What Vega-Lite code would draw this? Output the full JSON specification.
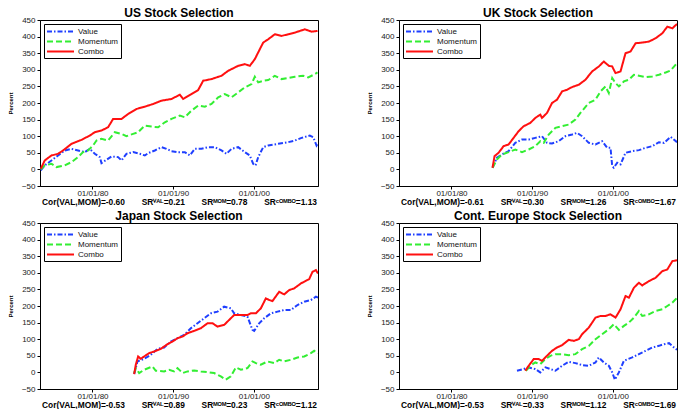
{
"$schema":"https://vega.github.io/schema/vega-lite/v6.json",
"background":"white",
"padding":{"left":6,"top":6,"right":0,"bottom":0},
"datasets":{"d":[
{"p":"US","s":"Value","x":1973.6,"v":-3},{"p":"US","s":"Value","x":1974.09,"v":12},{"p":"US","s":"Value","x":1974.92,"v":27},{"p":"US","s":"Value","x":1975.74,"v":42},{"p":"US","s":"Value","x":1976.57,"v":57},{"p":"US","s":"Value","x":1977.4,"v":62},{"p":"US","s":"Value","x":1978.22,"v":57},{"p":"US","s":"Value","x":1979.05,"v":52},{"p":"US","s":"Value","x":1979.67,"v":62},{"p":"US","s":"Value","x":1980.29,"v":47},{"p":"US","s":"Value","x":1980.91,"v":37},{"p":"US","s":"Value","x":1981.12,"v":19},{"p":"US","s":"Value","x":1981.74,"v":29},{"p":"US","s":"Value","x":1982.36,"v":39},{"p":"US","s":"Value","x":1983.18,"v":37},{"p":"US","s":"Value","x":1983.6,"v":27},{"p":"US","s":"Value","x":1984.21,"v":47},{"p":"US","s":"Value","x":1985.04,"v":52},{"p":"US","s":"Value","x":1985.87,"v":47},{"p":"US","s":"Value","x":1986.49,"v":42},{"p":"US","s":"Value","x":1986.9,"v":49},{"p":"US","s":"Value","x":1987.73,"v":57},{"p":"US","s":"Value","x":1988.55,"v":67},{"p":"US","s":"Value","x":1989.17,"v":62},{"p":"US","s":"Value","x":1989.79,"v":55},{"p":"US","s":"Value","x":1990.62,"v":52},{"p":"US","s":"Value","x":1991.45,"v":52},{"p":"US","s":"Value","x":1992.07,"v":42},{"p":"US","s":"Value","x":1992.69,"v":62},{"p":"US","s":"Value","x":1993.51,"v":62},{"p":"US","s":"Value","x":1994.34,"v":67},{"p":"US","s":"Value","x":1995.17,"v":67},{"p":"US","s":"Value","x":1995.99,"v":57},{"p":"US","s":"Value","x":1996.61,"v":47},{"p":"US","s":"Value","x":1997.23,"v":62},{"p":"US","s":"Value","x":1998.06,"v":67},{"p":"US","s":"Value","x":1998.88,"v":52},{"p":"US","s":"Value","x":1999.5,"v":42},{"p":"US","s":"Value","x":1999.92,"v":17},{"p":"US","s":"Value","x":2000.21,"v":12},{"p":"US","s":"Value","x":2000.54,"v":37},{"p":"US","s":"Value","x":2001.16,"v":67},{"p":"US","s":"Value","x":2001.78,"v":72},{"p":"US","s":"Value","x":2003.02,"v":77},{"p":"US","s":"Value","x":2004.26,"v":82},{"p":"US","s":"Value","x":2005.08,"v":87},{"p":"US","s":"Value","x":2005.91,"v":95},{"p":"US","s":"Value","x":2006.94,"v":102},{"p":"US","s":"Value","x":2007.36,"v":97},{"p":"US","s":"Value","x":2007.77,"v":72},{"p":"US","s":"Value","x":2007.89,"v":77},
{"p":"US","s":"Momentum","x":1973.6,"v":0},{"p":"US","s":"Momentum","x":1974.09,"v":12},{"p":"US","s":"Momentum","x":1974.92,"v":17},{"p":"US","s":"Momentum","x":1975.54,"v":7},{"p":"US","s":"Momentum","x":1976.57,"v":12},{"p":"US","s":"Momentum","x":1977.4,"v":22},{"p":"US","s":"Momentum","x":1978.22,"v":37},{"p":"US","s":"Momentum","x":1978.84,"v":52},{"p":"US","s":"Momentum","x":1979.46,"v":57},{"p":"US","s":"Momentum","x":1980.08,"v":72},{"p":"US","s":"Momentum","x":1980.5,"v":87},{"p":"US","s":"Momentum","x":1981.12,"v":92},{"p":"US","s":"Momentum","x":1981.94,"v":87},{"p":"US","s":"Momentum","x":1982.77,"v":112},{"p":"US","s":"Momentum","x":1983.6,"v":107},{"p":"US","s":"Momentum","x":1984.21,"v":100},{"p":"US","s":"Momentum","x":1985.04,"v":107},{"p":"US","s":"Momentum","x":1985.66,"v":112},{"p":"US","s":"Momentum","x":1986.49,"v":132},{"p":"US","s":"Momentum","x":1987.31,"v":129},{"p":"US","s":"Momentum","x":1988.14,"v":127},{"p":"US","s":"Momentum","x":1988.97,"v":142},{"p":"US","s":"Momentum","x":1989.79,"v":152},{"p":"US","s":"Momentum","x":1990.83,"v":162},{"p":"US","s":"Momentum","x":1991.45,"v":157},{"p":"US","s":"Momentum","x":1992.27,"v":177},{"p":"US","s":"Momentum","x":1993.1,"v":192},{"p":"US","s":"Momentum","x":1993.93,"v":189},{"p":"US","s":"Momentum","x":1994.75,"v":197},{"p":"US","s":"Momentum","x":1995.58,"v":217},{"p":"US","s":"Momentum","x":1996.4,"v":227},{"p":"US","s":"Momentum","x":1997.23,"v":217},{"p":"US","s":"Momentum","x":1998.06,"v":232},{"p":"US","s":"Momentum","x":1998.88,"v":247},{"p":"US","s":"Momentum","x":1999.71,"v":257},{"p":"US","s":"Momentum","x":2000.12,"v":279},{"p":"US","s":"Momentum","x":2000.54,"v":262},{"p":"US","s":"Momentum","x":2001.16,"v":267},{"p":"US","s":"Momentum","x":2001.78,"v":269},{"p":"US","s":"Momentum","x":2002.6,"v":282},{"p":"US","s":"Momentum","x":2003.43,"v":272},{"p":"US","s":"Momentum","x":2004.26,"v":275},{"p":"US","s":"Momentum","x":2005.08,"v":279},{"p":"US","s":"Momentum","x":2006.12,"v":282},{"p":"US","s":"Momentum","x":2006.74,"v":277},{"p":"US","s":"Momentum","x":2007.56,"v":287},{"p":"US","s":"Momentum","x":2007.89,"v":292},
{"p":"US","s":"Combo","x":1973.6,"v":2},{"p":"US","s":"Combo","x":1974.09,"v":27},{"p":"US","s":"Combo","x":1974.92,"v":42},{"p":"US","s":"Combo","x":1975.74,"v":47},{"p":"US","s":"Combo","x":1976.36,"v":57},{"p":"US","s":"Combo","x":1977.4,"v":77},{"p":"US","s":"Combo","x":1978.64,"v":89},{"p":"US","s":"Combo","x":1979.67,"v":102},{"p":"US","s":"Combo","x":1980.29,"v":112},{"p":"US","s":"Combo","x":1981.12,"v":117},{"p":"US","s":"Combo","x":1981.94,"v":127},{"p":"US","s":"Combo","x":1982.56,"v":152},{"p":"US","s":"Combo","x":1983.6,"v":152},{"p":"US","s":"Combo","x":1984.42,"v":167},{"p":"US","s":"Combo","x":1985.45,"v":182},{"p":"US","s":"Combo","x":1986.49,"v":189},{"p":"US","s":"Combo","x":1987.52,"v":197},{"p":"US","s":"Combo","x":1988.55,"v":207},{"p":"US","s":"Combo","x":1989.79,"v":212},{"p":"US","s":"Combo","x":1990.83,"v":225},{"p":"US","s":"Combo","x":1991.24,"v":212},{"p":"US","s":"Combo","x":1992.27,"v":227},{"p":"US","s":"Combo","x":1993.1,"v":239},{"p":"US","s":"Combo","x":1993.72,"v":267},{"p":"US","s":"Combo","x":1994.75,"v":272},{"p":"US","s":"Combo","x":1995.99,"v":282},{"p":"US","s":"Combo","x":1996.82,"v":297},{"p":"US","s":"Combo","x":1998.06,"v":312},{"p":"US","s":"Combo","x":1998.88,"v":317},{"p":"US","s":"Combo","x":1999.5,"v":312},{"p":"US","s":"Combo","x":2000.12,"v":332},{"p":"US","s":"Combo","x":2000.74,"v":362},{"p":"US","s":"Combo","x":2001.16,"v":382},{"p":"US","s":"Combo","x":2001.78,"v":392},{"p":"US","s":"Combo","x":2002.6,"v":407},{"p":"US","s":"Combo","x":2003.43,"v":402},{"p":"US","s":"Combo","x":2004.26,"v":407},{"p":"US","s":"Combo","x":2005.08,"v":412},{"p":"US","s":"Combo","x":2006.32,"v":422},{"p":"US","s":"Combo","x":2007.15,"v":415},{"p":"US","s":"Combo","x":2007.89,"v":417},
{"p":"UK","s":"Value","x":1985.09,"v":5},{"p":"UK","s":"Value","x":1985.63,"v":35},{"p":"UK","s":"Value","x":1986.25,"v":45},{"p":"UK","s":"Value","x":1987.08,"v":55},{"p":"UK","s":"Value","x":1987.91,"v":80},{"p":"UK","s":"Value","x":1988.74,"v":90},{"p":"UK","s":"Value","x":1989.57,"v":90},{"p":"UK","s":"Value","x":1990.39,"v":95},{"p":"UK","s":"Value","x":1991.22,"v":100},{"p":"UK","s":"Value","x":1991.84,"v":80},{"p":"UK","s":"Value","x":1992.46,"v":78},{"p":"UK","s":"Value","x":1993.29,"v":85},{"p":"UK","s":"Value","x":1994.12,"v":100},{"p":"UK","s":"Value","x":1994.95,"v":105},{"p":"UK","s":"Value","x":1995.57,"v":110},{"p":"UK","s":"Value","x":1996.19,"v":100},{"p":"UK","s":"Value","x":1997.02,"v":80},{"p":"UK","s":"Value","x":1997.85,"v":75},{"p":"UK","s":"Value","x":1998.67,"v":85},{"p":"UK","s":"Value","x":1999.3,"v":65},{"p":"UK","s":"Value","x":1999.71,"v":65},{"p":"UK","s":"Value","x":1999.92,"v":10},{"p":"UK","s":"Value","x":2000.12,"v":5},{"p":"UK","s":"Value","x":2000.54,"v":20},{"p":"UK","s":"Value","x":2000.95,"v":15},{"p":"UK","s":"Value","x":2001.57,"v":50},{"p":"UK","s":"Value","x":2002.4,"v":55},{"p":"UK","s":"Value","x":2003.23,"v":58},{"p":"UK","s":"Value","x":2004.06,"v":65},{"p":"UK","s":"Value","x":2004.89,"v":70},{"p":"UK","s":"Value","x":2005.71,"v":82},{"p":"UK","s":"Value","x":2006.34,"v":80},{"p":"UK","s":"Value","x":2007.16,"v":98},{"p":"UK","s":"Value","x":2007.95,"v":82},
{"p":"UK","s":"Momentum","x":1985.09,"v":5},{"p":"UK","s":"Momentum","x":1985.63,"v":30},{"p":"UK","s":"Momentum","x":1986.25,"v":45},{"p":"UK","s":"Momentum","x":1987.08,"v":52},{"p":"UK","s":"Momentum","x":1987.91,"v":60},{"p":"UK","s":"Momentum","x":1988.74,"v":52},{"p":"UK","s":"Momentum","x":1989.57,"v":60},{"p":"UK","s":"Momentum","x":1990.39,"v":70},{"p":"UK","s":"Momentum","x":1991.01,"v":85},{"p":"UK","s":"Momentum","x":1991.43,"v":80},{"p":"UK","s":"Momentum","x":1992.05,"v":105},{"p":"UK","s":"Momentum","x":1992.88,"v":125},{"p":"UK","s":"Momentum","x":1993.71,"v":130},{"p":"UK","s":"Momentum","x":1994.53,"v":135},{"p":"UK","s":"Momentum","x":1995.36,"v":150},{"p":"UK","s":"Momentum","x":1995.98,"v":170},{"p":"UK","s":"Momentum","x":1997.02,"v":200},{"p":"UK","s":"Momentum","x":1997.85,"v":210},{"p":"UK","s":"Momentum","x":1998.47,"v":235},{"p":"UK","s":"Momentum","x":1999.09,"v":250},{"p":"UK","s":"Momentum","x":1999.5,"v":230},{"p":"UK","s":"Momentum","x":1999.92,"v":275},{"p":"UK","s":"Momentum","x":2000.33,"v":260},{"p":"UK","s":"Momentum","x":2000.75,"v":250},{"p":"UK","s":"Momentum","x":2001.37,"v":265},{"p":"UK","s":"Momentum","x":2001.99,"v":270},{"p":"UK","s":"Momentum","x":2002.61,"v":285},{"p":"UK","s":"Momentum","x":2003.23,"v":282},{"p":"UK","s":"Momentum","x":2004.06,"v":278},{"p":"UK","s":"Momentum","x":2004.89,"v":280},{"p":"UK","s":"Momentum","x":2005.71,"v":285},{"p":"UK","s":"Momentum","x":2006.54,"v":292},{"p":"UK","s":"Momentum","x":2007.16,"v":298},{"p":"UK","s":"Momentum","x":2007.95,"v":320},
{"p":"UK","s":"Combo","x":1985.09,"v":5},{"p":"UK","s":"Combo","x":1985.34,"v":40},{"p":"UK","s":"Combo","x":1985.84,"v":50},{"p":"UK","s":"Combo","x":1986.46,"v":70},{"p":"UK","s":"Combo","x":1987.08,"v":75},{"p":"UK","s":"Combo","x":1987.7,"v":95},{"p":"UK","s":"Combo","x":1988.32,"v":115},{"p":"UK","s":"Combo","x":1988.94,"v":130},{"p":"UK","s":"Combo","x":1989.77,"v":140},{"p":"UK","s":"Combo","x":1990.39,"v":155},{"p":"UK","s":"Combo","x":1991.01,"v":165},{"p":"UK","s":"Combo","x":1991.22,"v":155},{"p":"UK","s":"Combo","x":1991.84,"v":170},{"p":"UK","s":"Combo","x":1992.46,"v":200},{"p":"UK","s":"Combo","x":1993.08,"v":210},{"p":"UK","s":"Combo","x":1993.71,"v":235},{"p":"UK","s":"Combo","x":1994.33,"v":240},{"p":"UK","s":"Combo","x":1994.95,"v":248},{"p":"UK","s":"Combo","x":1995.78,"v":255},{"p":"UK","s":"Combo","x":1996.6,"v":270},{"p":"UK","s":"Combo","x":1997.43,"v":295},{"p":"UK","s":"Combo","x":1998.26,"v":310},{"p":"UK","s":"Combo","x":1998.88,"v":325},{"p":"UK","s":"Combo","x":1999.5,"v":312},{"p":"UK","s":"Combo","x":1999.92,"v":310},{"p":"UK","s":"Combo","x":2000.33,"v":290},{"p":"UK","s":"Combo","x":2000.95,"v":295},{"p":"UK","s":"Combo","x":2001.57,"v":350},{"p":"UK","s":"Combo","x":2002.19,"v":355},{"p":"UK","s":"Combo","x":2002.82,"v":380},{"p":"UK","s":"Combo","x":2003.64,"v":382},{"p":"UK","s":"Combo","x":2004.47,"v":385},{"p":"UK","s":"Combo","x":2005.3,"v":395},{"p":"UK","s":"Combo","x":2006.13,"v":410},{"p":"UK","s":"Combo","x":2006.75,"v":430},{"p":"UK","s":"Combo","x":2007.37,"v":425},{"p":"UK","s":"Combo","x":2007.95,"v":438},
{"p":"JP","s":"Value","x":1985.17,"v":-5},{"p":"JP","s":"Value","x":1985.58,"v":33},{"p":"JP","s":"Value","x":1986.4,"v":41},{"p":"JP","s":"Value","x":1987.23,"v":53},{"p":"JP","s":"Value","x":1988.06,"v":71},{"p":"JP","s":"Value","x":1988.88,"v":75},{"p":"JP","s":"Value","x":1989.71,"v":93},{"p":"JP","s":"Value","x":1990.54,"v":103},{"p":"JP","s":"Value","x":1991.36,"v":113},{"p":"JP","s":"Value","x":1992.19,"v":133},{"p":"JP","s":"Value","x":1993.02,"v":148},{"p":"JP","s":"Value","x":1993.84,"v":163},{"p":"JP","s":"Value","x":1994.67,"v":178},{"p":"JP","s":"Value","x":1995.5,"v":183},{"p":"JP","s":"Value","x":1996.32,"v":198},{"p":"JP","s":"Value","x":1997.15,"v":193},{"p":"JP","s":"Value","x":1997.56,"v":178},{"p":"JP","s":"Value","x":1998.39,"v":173},{"p":"JP","s":"Value","x":1999.21,"v":168},{"p":"JP","s":"Value","x":1999.83,"v":128},{"p":"JP","s":"Value","x":2000.04,"v":125},{"p":"JP","s":"Value","x":2000.66,"v":148},{"p":"JP","s":"Value","x":2001.28,"v":163},{"p":"JP","s":"Value","x":2002.11,"v":178},{"p":"JP","s":"Value","x":2002.93,"v":183},{"p":"JP","s":"Value","x":2003.76,"v":188},{"p":"JP","s":"Value","x":2004.59,"v":188},{"p":"JP","s":"Value","x":2005.41,"v":203},{"p":"JP","s":"Value","x":2006.24,"v":213},{"p":"JP","s":"Value","x":2007.07,"v":218},{"p":"JP","s":"Value","x":2007.69,"v":228},{"p":"JP","s":"Value","x":2007.95,"v":225},
{"p":"JP","s":"Momentum","x":1985.17,"v":-2},{"p":"JP","s":"Momentum","x":1985.37,"v":13},{"p":"JP","s":"Momentum","x":1985.79,"v":-2},{"p":"JP","s":"Momentum","x":1986.4,"v":8},{"p":"JP","s":"Momentum","x":1987.44,"v":18},{"p":"JP","s":"Momentum","x":1987.85,"v":5},{"p":"JP","s":"Momentum","x":1988.88,"v":3},{"p":"JP","s":"Momentum","x":1989.5,"v":8},{"p":"JP","s":"Momentum","x":1990.12,"v":3},{"p":"JP","s":"Momentum","x":1990.54,"v":13},{"p":"JP","s":"Momentum","x":1991.16,"v":-2},{"p":"JP","s":"Momentum","x":1991.78,"v":3},{"p":"JP","s":"Momentum","x":1992.6,"v":6},{"p":"JP","s":"Momentum","x":1993.43,"v":3},{"p":"JP","s":"Momentum","x":1994.26,"v":1},{"p":"JP","s":"Momentum","x":1995.08,"v":-2},{"p":"JP","s":"Momentum","x":1995.91,"v":-12},{"p":"JP","s":"Momentum","x":1996.53,"v":-22},{"p":"JP","s":"Momentum","x":1997.15,"v":-12},{"p":"JP","s":"Momentum","x":1997.77,"v":15},{"p":"JP","s":"Momentum","x":1998.39,"v":8},{"p":"JP","s":"Momentum","x":1999.21,"v":13},{"p":"JP","s":"Momentum","x":1999.83,"v":33},{"p":"JP","s":"Momentum","x":2000.25,"v":28},{"p":"JP","s":"Momentum","x":2000.87,"v":23},{"p":"JP","s":"Momentum","x":2001.69,"v":33},{"p":"JP","s":"Momentum","x":2002.52,"v":28},{"p":"JP","s":"Momentum","x":2003.14,"v":38},{"p":"JP","s":"Momentum","x":2003.76,"v":33},{"p":"JP","s":"Momentum","x":2004.59,"v":38},{"p":"JP","s":"Momentum","x":2005.41,"v":45},{"p":"JP","s":"Momentum","x":2006.24,"v":48},{"p":"JP","s":"Momentum","x":2007.07,"v":58},{"p":"JP","s":"Momentum","x":2007.48,"v":65},{"p":"JP","s":"Momentum","x":2007.95,"v":58},
{"p":"JP","s":"Combo","x":1985.17,"v":-5},{"p":"JP","s":"Combo","x":1985.37,"v":23},{"p":"JP","s":"Combo","x":1985.66,"v":48},{"p":"JP","s":"Combo","x":1985.99,"v":41},{"p":"JP","s":"Combo","x":1986.4,"v":48},{"p":"JP","s":"Combo","x":1987.02,"v":58},{"p":"JP","s":"Combo","x":1987.64,"v":63},{"p":"JP","s":"Combo","x":1988.47,"v":71},{"p":"JP","s":"Combo","x":1989.3,"v":85},{"p":"JP","s":"Combo","x":1989.92,"v":93},{"p":"JP","s":"Combo","x":1990.54,"v":103},{"p":"JP","s":"Combo","x":1991.16,"v":108},{"p":"JP","s":"Combo","x":1991.78,"v":118},{"p":"JP","s":"Combo","x":1992.6,"v":125},{"p":"JP","s":"Combo","x":1993.43,"v":133},{"p":"JP","s":"Combo","x":1994.26,"v":148},{"p":"JP","s":"Combo","x":1994.88,"v":148},{"p":"JP","s":"Combo","x":1995.5,"v":138},{"p":"JP","s":"Combo","x":1996.32,"v":143},{"p":"JP","s":"Combo","x":1996.94,"v":158},{"p":"JP","s":"Combo","x":1997.56,"v":173},{"p":"JP","s":"Combo","x":1998.39,"v":173},{"p":"JP","s":"Combo","x":1999.21,"v":173},{"p":"JP","s":"Combo","x":1999.63,"v":178},{"p":"JP","s":"Combo","x":2000.25,"v":178},{"p":"JP","s":"Combo","x":2000.87,"v":193},{"p":"JP","s":"Combo","x":2001.49,"v":223},{"p":"JP","s":"Combo","x":2001.9,"v":218},{"p":"JP","s":"Combo","x":2002.31,"v":215},{"p":"JP","s":"Combo","x":2003.14,"v":243},{"p":"JP","s":"Combo","x":2003.76,"v":235},{"p":"JP","s":"Combo","x":2004.38,"v":248},{"p":"JP","s":"Combo","x":2005.0,"v":253},{"p":"JP","s":"Combo","x":2005.83,"v":268},{"p":"JP","s":"Combo","x":2006.86,"v":281},{"p":"JP","s":"Combo","x":2007.27,"v":303},{"p":"JP","s":"Combo","x":2007.69,"v":308},{"p":"JP","s":"Combo","x":2007.95,"v":298},
{"p":"EU","s":"Value","x":1988.12,"v":5},{"p":"EU","s":"Value","x":1988.94,"v":10},{"p":"EU","s":"Value","x":1989.57,"v":15},{"p":"EU","s":"Value","x":1990.39,"v":10},{"p":"EU","s":"Value","x":1991.01,"v":0},{"p":"EU","s":"Value","x":1991.64,"v":15},{"p":"EU","s":"Value","x":1992.26,"v":10},{"p":"EU","s":"Value","x":1992.88,"v":5},{"p":"EU","s":"Value","x":1993.71,"v":20},{"p":"EU","s":"Value","x":1994.53,"v":32},{"p":"EU","s":"Value","x":1995.36,"v":28},{"p":"EU","s":"Value","x":1996.19,"v":22},{"p":"EU","s":"Value","x":1997.02,"v":20},{"p":"EU","s":"Value","x":1997.85,"v":30},{"p":"EU","s":"Value","x":1998.26,"v":45},{"p":"EU","s":"Value","x":1998.88,"v":30},{"p":"EU","s":"Value","x":1999.5,"v":20},{"p":"EU","s":"Value","x":1999.92,"v":0},{"p":"EU","s":"Value","x":2000.25,"v":-22},{"p":"EU","s":"Value","x":2000.75,"v":0},{"p":"EU","s":"Value","x":2001.37,"v":35},{"p":"EU","s":"Value","x":2002.4,"v":45},{"p":"EU","s":"Value","x":2003.23,"v":55},{"p":"EU","s":"Value","x":2004.06,"v":65},{"p":"EU","s":"Value","x":2004.89,"v":75},{"p":"EU","s":"Value","x":2005.71,"v":80},{"p":"EU","s":"Value","x":2006.34,"v":85},{"p":"EU","s":"Value","x":2006.96,"v":88},{"p":"EU","s":"Value","x":2007.58,"v":75},{"p":"EU","s":"Value","x":2007.95,"v":68},
{"p":"EU","s":"Momentum","x":1989.23,"v":5},{"p":"EU","s":"Momentum","x":1989.77,"v":20},{"p":"EU","s":"Momentum","x":1990.39,"v":30},{"p":"EU","s":"Momentum","x":1991.01,"v":25},{"p":"EU","s":"Momentum","x":1991.64,"v":40},{"p":"EU","s":"Momentum","x":1992.26,"v":50},{"p":"EU","s":"Momentum","x":1992.88,"v":55},{"p":"EU","s":"Momentum","x":1993.71,"v":55},{"p":"EU","s":"Momentum","x":1994.53,"v":52},{"p":"EU","s":"Momentum","x":1995.36,"v":55},{"p":"EU","s":"Momentum","x":1996.19,"v":70},{"p":"EU","s":"Momentum","x":1997.02,"v":80},{"p":"EU","s":"Momentum","x":1997.85,"v":100},{"p":"EU","s":"Momentum","x":1998.67,"v":115},{"p":"EU","s":"Momentum","x":1999.5,"v":130},{"p":"EU","s":"Momentum","x":2000.12,"v":145},{"p":"EU","s":"Momentum","x":2000.75,"v":128},{"p":"EU","s":"Momentum","x":2001.37,"v":140},{"p":"EU","s":"Momentum","x":2001.99,"v":150},{"p":"EU","s":"Momentum","x":2002.61,"v":165},{"p":"EU","s":"Momentum","x":2003.23,"v":185},{"p":"EU","s":"Momentum","x":2003.64,"v":170},{"p":"EU","s":"Momentum","x":2004.47,"v":175},{"p":"EU","s":"Momentum","x":2005.3,"v":185},{"p":"EU","s":"Momentum","x":2006.13,"v":190},{"p":"EU","s":"Momentum","x":2006.75,"v":200},{"p":"EU","s":"Momentum","x":2007.37,"v":210},{"p":"EU","s":"Momentum","x":2007.95,"v":225},
{"p":"EU","s":"Combo","x":1989.15,"v":5},{"p":"EU","s":"Combo","x":1989.57,"v":20},{"p":"EU","s":"Combo","x":1990.19,"v":40},{"p":"EU","s":"Combo","x":1990.81,"v":40},{"p":"EU","s":"Combo","x":1991.22,"v":35},{"p":"EU","s":"Combo","x":1991.84,"v":50},{"p":"EU","s":"Combo","x":1992.46,"v":65},{"p":"EU","s":"Combo","x":1993.08,"v":75},{"p":"EU","s":"Combo","x":1993.71,"v":82},{"p":"EU","s":"Combo","x":1994.53,"v":98},{"p":"EU","s":"Combo","x":1995.16,"v":95},{"p":"EU","s":"Combo","x":1995.78,"v":100},{"p":"EU","s":"Combo","x":1996.19,"v":115},{"p":"EU","s":"Combo","x":1997.02,"v":135},{"p":"EU","s":"Combo","x":1997.85,"v":165},{"p":"EU","s":"Combo","x":1998.47,"v":170},{"p":"EU","s":"Combo","x":1999.09,"v":170},{"p":"EU","s":"Combo","x":1999.71,"v":175},{"p":"EU","s":"Combo","x":2000.33,"v":165},{"p":"EU","s":"Combo","x":2000.95,"v":190},{"p":"EU","s":"Combo","x":2001.57,"v":230},{"p":"EU","s":"Combo","x":2001.99,"v":225},{"p":"EU","s":"Combo","x":2002.61,"v":255},{"p":"EU","s":"Combo","x":2003.23,"v":270},{"p":"EU","s":"Combo","x":2003.64,"v":262},{"p":"EU","s":"Combo","x":2004.47,"v":275},{"p":"EU","s":"Combo","x":2005.3,"v":285},{"p":"EU","s":"Combo","x":2006.13,"v":305},{"p":"EU","s":"Combo","x":2006.75,"v":310},{"p":"EU","s":"Combo","x":2007.37,"v":335},{"p":"EU","s":"Combo","x":2007.95,"v":338}
]},
"data":{"name":"d"},
"columns":2,
"spacing":{"column":46,"row":3},
"resolve":{"scale":{"color":"independent","strokeDash":"independent"},"legend":{"color":"independent","strokeDash":"independent"}},
"concat":[
{"title":{"text":"US Stock Selection"},"width":278,"height":166,
 "transform":[{"filter":"datum.p == 'US'"}],
 "mark":{"type":"line","strokeWidth":2,"clip":true},
 "encoding":{
  "x":{"field":"x","type":"quantitative","scale":{"domain":[1973.5,2007.95],"nice":false,"zero":false},"axis":{"values":[1980,1990,2000],"labelExpr":"'01/01/' + substring(toString(datum.value), 2, 4)","title":"Cor(VAL,MOM)=-0.60\u2003\u2003SR\u2c7d\u1d2c\u1d38=0.21\u2003\u2003SR\u1d39\u1d3c\u1d39=0.78\u2003\u2003SR\u1d9c\u1d3c\u1d39\u1d2e\u1d3c=1.13"}},
  "y":{"field":"v","type":"quantitative","scale":{"domain":[-50,450],"nice":false,"zero":false},"axis":{"values":[-50,0,50,100,150,200,250,300,350,400,450],"title":"Percent"}},
  "color":{"field":"s","type":"nominal","scale":{"domain":["Value","Momentum","Combo"],"range":["#1f3fff","#33ee33","#ff1010"]},"legend":{"title":null}},
  "strokeDash":{"field":"s","type":"nominal","scale":{"domain":["Value","Momentum","Combo"],"range":[[5,2,1.5,2],[6,3],[1,0]]},"legend":{"title":null}}
 }},
{"title":{"text":"UK Stock Selection"},"width":278,"height":166,
 "transform":[{"filter":"datum.p == 'UK'"}],
 "mark":{"type":"line","strokeWidth":2,"clip":true},
 "encoding":{
  "x":{"field":"x","type":"quantitative","scale":{"domain":[1973.5,2007.95],"nice":false,"zero":false},"axis":{"values":[1980,1990,2000],"labelExpr":"'01/01/' + substring(toString(datum.value), 2, 4)","title":"Cor(VAL,MOM)=-0.61\u2003\u2003SR\u2c7d\u1d2c\u1d38=0.30\u2003\u2003SR\u1d39\u1d3c\u1d39=1.26\u2003\u2003SR\u1d9c\u1d3c\u1d39\u1d2e\u1d3c=1.67"}},
  "y":{"field":"v","type":"quantitative","scale":{"domain":[-50,450],"nice":false,"zero":false},"axis":{"values":[-50,0,50,100,150,200,250,300,350,400,450],"title":"Percent"}},
  "color":{"field":"s","type":"nominal","scale":{"domain":["Value","Momentum","Combo"],"range":["#1f3fff","#33ee33","#ff1010"]},"legend":{"title":null}},
  "strokeDash":{"field":"s","type":"nominal","scale":{"domain":["Value","Momentum","Combo"],"range":[[5,2,1.5,2],[6,3],[1,0]]},"legend":{"title":null}}
 }},
{"title":{"text":"Japan Stock Selection"},"width":278,"height":166,
 "transform":[{"filter":"datum.p == 'JP'"}],
 "mark":{"type":"line","strokeWidth":2,"clip":true},
 "encoding":{
  "x":{"field":"x","type":"quantitative","scale":{"domain":[1973.5,2007.95],"nice":false,"zero":false},"axis":{"values":[1980,1990,2000],"labelExpr":"'01/01/' + substring(toString(datum.value), 2, 4)","title":"Cor(VAL,MOM)=-0.53\u2003\u2003SR\u2c7d\u1d2c\u1d38=0.89\u2003\u2003SR\u1d39\u1d3c\u1d39=0.23\u2003\u2003SR\u1d9c\u1d3c\u1d39\u1d2e\u1d3c=1.12"}},
  "y":{"field":"v","type":"quantitative","scale":{"domain":[-50,450],"nice":false,"zero":false},"axis":{"values":[-50,0,50,100,150,200,250,300,350,400,450],"title":"Percent"}},
  "color":{"field":"s","type":"nominal","scale":{"domain":["Value","Momentum","Combo"],"range":["#1f3fff","#33ee33","#ff1010"]},"legend":{"title":null}},
  "strokeDash":{"field":"s","type":"nominal","scale":{"domain":["Value","Momentum","Combo"],"range":[[5,2,1.5,2],[6,3],[1,0]]},"legend":{"title":null}}
 }},
{"title":{"text":"Cont. Europe Stock Selection"},"width":278,"height":166,
 "transform":[{"filter":"datum.p == 'EU'"}],
 "mark":{"type":"line","strokeWidth":2,"clip":true},
 "encoding":{
  "x":{"field":"x","type":"quantitative","scale":{"domain":[1973.5,2007.95],"nice":false,"zero":false},"axis":{"values":[1980,1990,2000],"labelExpr":"'01/01/' + substring(toString(datum.value), 2, 4)","title":"Cor(VAL,MOM)=-0.53\u2003\u2003SR\u2c7d\u1d2c\u1d38=0.33\u2003\u2003SR\u1d39\u1d3c\u1d39=1.12\u2003\u2003SR\u1d9c\u1d3c\u1d39\u1d2e\u1d3c=1.69"}},
  "y":{"field":"v","type":"quantitative","scale":{"domain":[-50,450],"nice":false,"zero":false},"axis":{"values":[-50,0,50,100,150,200,250,300,350,400,450],"title":"Percent"}},
  "color":{"field":"s","type":"nominal","scale":{"domain":["Value","Momentum","Combo"],"range":["#1f3fff","#33ee33","#ff1010"]},"legend":{"title":null}},
  "strokeDash":{"field":"s","type":"nominal","scale":{"domain":["Value","Momentum","Combo"],"range":[[5,2,1.5,2],[6,3],[1,0]]},"legend":{"title":null}}
 }}
],
"config":{
 "font":"Liberation Sans",
 "view":{"stroke":"black","strokeWidth":1},
 "axis":{"grid":false,"domainColor":"black","tickColor":"black","labelFontSize":8,"labelColor":"#222","titleColor":"black","titleFontWeight":"bold","tickSize":3,"labelPadding":2},
 "axisX":{"titleFontSize":8.4,"titlePadding":0,"labelFlush":false,"tickSize":3,"labelPadding":0},
 "axisY":{"titleFontSize":6,"titlePadding":8},
 "title":{"fontSize":12,"fontWeight":"bold","offset":-4,"color":"black"},
 "legend":{"orient":"none","legendX":4,"legendY":4,"fillColor":"white","strokeColor":"black","padding":2,"titlePadding":0,"labelFontSize":8,"labelColor":"#111","symbolType":"M-1,0H5","symbolSize":81,"symbolStrokeWidth":2,"labelOffset":21,"rowPadding":0}
}
}
